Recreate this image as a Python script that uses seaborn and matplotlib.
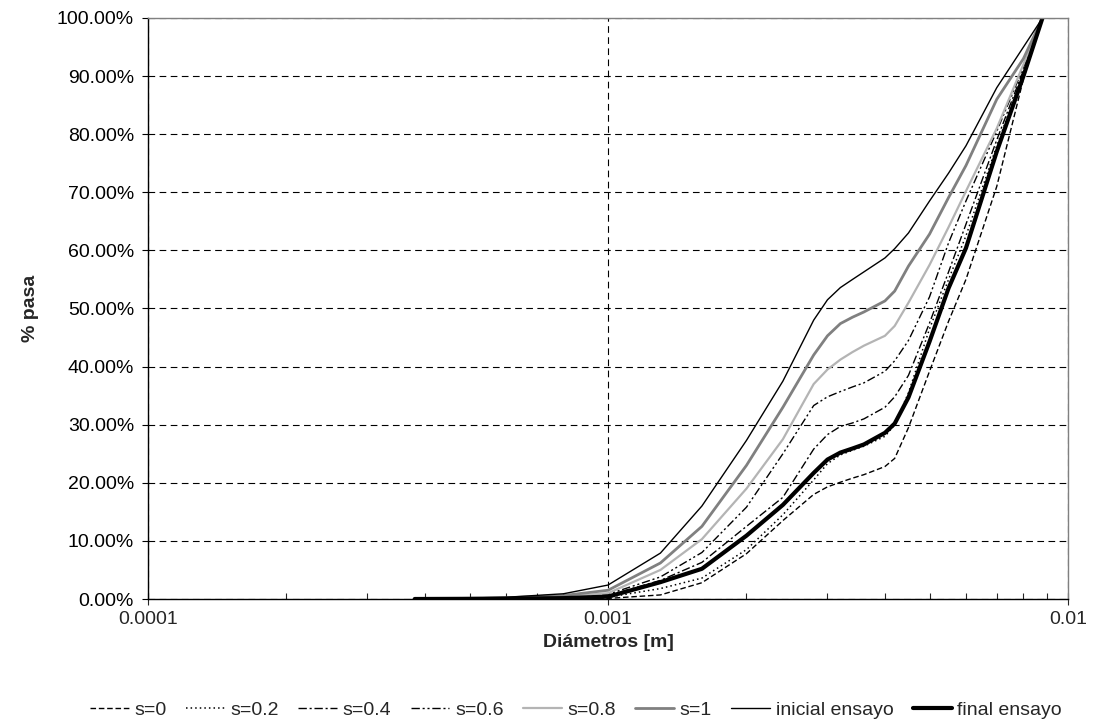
import matplotlib
matplotlib.use("Agg")
import matplotlib.pyplot as plt
import matplotlib.ticker as mticker
import seaborn as sns

# diámetros [m] y % pasa
diametro = [0.00038, 0.0006, 0.0008, 0.001, 0.0013, 0.0016, 0.002, 0.0024, 0.0028, 0.003, 0.0032,
            0.0034, 0.0036, 0.004, 0.0042, 0.0045, 0.005, 0.0055, 0.006, 0.007, 0.008, 0.0088]

s_0 = [0, 0, 0.02, 0.1, 0.7, 2.8, 7.8, 13.5, 18.0, 19.3, 20.1, 20.8, 21.4, 22.8, 24.2, 29.5,
       39.2, 47.8, 55.0, 71.0, 89.5, 100]
s_02 = [0, 0.03, 0.1, 0.3, 1.8, 3.6, 8.5, 14.5, 20.5, 23.3, 24.8, 25.6, 26.3, 28.0, 30.0, 35.5,
        46.5, 55.0, 62.5, 78.0, 90.5, 100]
s_04 = [0, 0.05, 0.2, 0.6, 3.2, 6.3, 12.5, 17.5, 25.8, 28.3, 29.7, 30.3, 31.0, 33.0, 34.8, 38.5,
        47.5, 56.3, 64.5, 79.0, 91.0, 100]
s_06 = [0, 0.1, 0.3, 0.8, 3.8, 8.0, 15.8, 25.0, 33.3, 34.8, 35.7, 36.5, 37.2, 39.2, 41.0, 44.5,
        52.0, 61.3, 68.5, 80.5, 91.5, 100]
s_08 = [0, 0.1, 0.4, 1.0, 5.0, 10.3, 19.0, 27.5, 37.0, 39.5, 41.2, 42.5, 43.6, 45.3, 47.0, 51.0,
        57.5, 64.0, 70.2, 81.0, 92.0, 100]
s_1 = [0, 0.2, 0.6, 1.5, 6.2, 12.5, 23.0, 33.0, 42.0, 45.3, 47.4, 48.5, 49.4, 51.3, 53.0, 57.3,
       62.8, 69.1, 74.6, 86.0, 93.0, 100]
inicial = [0, 0.3, 0.9, 2.4, 7.9, 16.0, 27.3, 37.5, 48.0, 51.5, 53.6, 55.0, 56.3, 58.7, 60.3, 63.0,
           68.5, 73.3, 78.0, 88.0, 95.0, 100]
final = [0, 0.05, 0.15, 0.4, 2.9, 5.2, 10.9, 16.2, 21.7, 24.0, 25.2, 25.9, 26.6, 28.6, 30.2, 34.7,
         44.3, 53.5, 60.4, 77.0, 90.0, 100]

nombres = ["s=0", "s=0.2", "s=0.4", "s=0.6", "s=0.8", "s=1", "inicial ensayo", "final ensayo"]
series = [s_0, s_02, s_04, s_06, s_08, s_1, inicial, final]
colores = ["black", "black", "black", "black", "#b4b4b4", "#808080", "black", "black"]
anchos = [1.0, 1.1, 1.0, 1.0, 1.6, 2.0, 1.0, 3.0]
estilos = [(0, (4, 2)), (0, (1, 2)), (0, (6, 2, 1.5, 2)), (0, (6, 2, 1.5, 2, 1.5, 2)),
           "-", "-", "-", "-"]

sns.set_style("ticks")
plt.rcParams["font.family"] = ["Liberation Sans", "DejaVu Sans"]

fig = plt.figure(figsize=(10.97, 7.28), dpi=100)
ax = fig.add_axes([148 / 1097, 1 - 599 / 728, 920 / 1097, 581 / 728])

for nombre, valores, c, lw, ls in zip(nombres, series, colores, anchos, estilos):
    sns.lineplot(x=diametro, y=valores, ax=ax, color=c, linewidth=lw,
                 linestyle=ls, label=nombre, sort=False)

ax.set_xscale("log")
ax.set_xlim(0.0001, 0.01)
ax.set_ylim(0, 100)
ax.yaxis.set_major_locator(mticker.MultipleLocator(10))
ax.yaxis.set_major_formatter(mticker.PercentFormatter(xmax=100, decimals=2))
ax.xaxis.set_major_locator(mticker.FixedLocator([0.0001, 0.001, 0.01]))
ax.xaxis.set_major_formatter(mticker.FixedFormatter(["0.0001", "0.001", "0.01"]))
ax.xaxis.set_minor_locator(mticker.LogLocator(base=10, subs=range(2, 10)))
ax.xaxis.set_minor_formatter(mticker.NullFormatter())

ax.grid(True, which="major", axis="both", color="black", linestyle=(0, (6, 4)), linewidth=0.8)
ax.set_axisbelow(True)

for lado in ["top", "right"]:
    ax.spines[lado].set_color("#808080")
    ax.spines[lado].set_linewidth(1.0)
for lado in ["left", "bottom"]:
    ax.spines[lado].set_color("black")
    ax.spines[lado].set_linewidth(1.0)

ax.tick_params(axis="y", which="major", direction="out", length=4, width=0.8,
               labelsize=14, pad=6, colors="black")
ax.tick_params(axis="x", which="major", direction="inout", length=8, width=0.8,
               labelsize=14, pad=5)
ax.tick_params(axis="x", which="minor", direction="in", length=4, width=0.8)

ax.set_xlabel("Diámetros [m]", fontsize=14, fontweight="bold", labelpad=4)
ax.set_ylabel("% pasa", fontsize=14, fontweight="bold", labelpad=13)

ax.legend(loc="center", bbox_to_anchor=(0.525, 0.025), bbox_transform=fig.transFigure,
          ncol=8, frameon=False, fontsize=14, handlelength=2.0, handletextpad=0.3,
          columnspacing=0.98)

fig.savefig("out.png", dpi=100)
